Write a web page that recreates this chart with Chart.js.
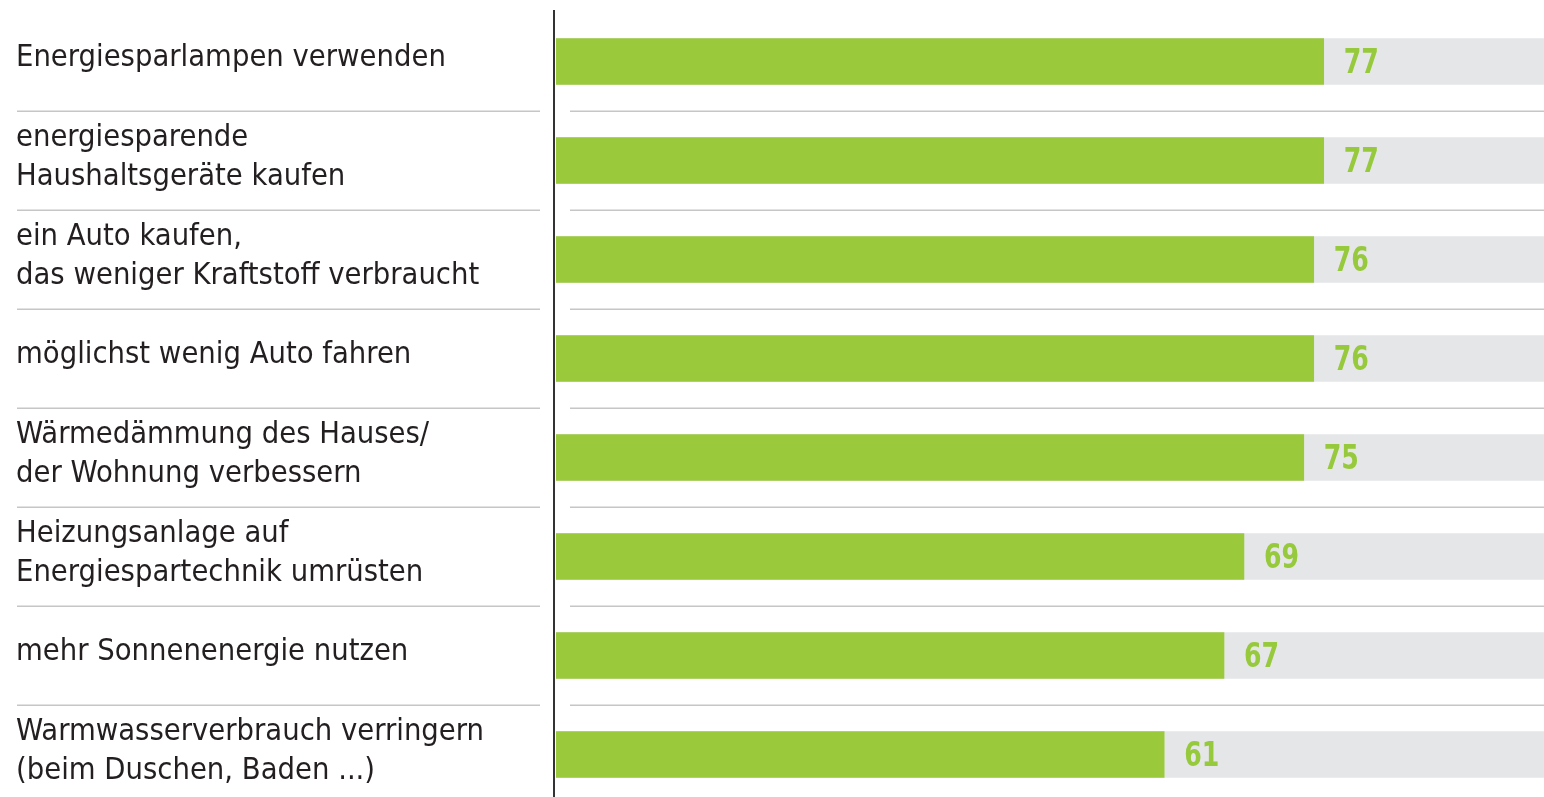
<!DOCTYPE html>
<html>
<head>
<meta charset="utf-8">
<script src="https://cdn.jsdelivr.net/npm/chart.js@4.4.1/dist/chart.umd.min.js"></script>
<style>
  html, body { margin: 0; padding: 0; background: #ffffff; overflow: hidden; }
  #wrap { position: relative; width: 1553px; height: 804px; }
</style>
</head>
<body>
<div id="wrap"><canvas id="c"></canvas></div>
<script>
// ---- data ----
const categories = [
  ["Energiesparlampen verwenden"],
  ["energiesparende", "Haushaltsgeräte kaufen"],
  ["ein Auto kaufen,", "das weniger Kraftstoff verbraucht"],
  ["möglichst wenig Auto fahren"],
  ["Wärmedämmung des Hauses/", "der Wohnung verbessern"],
  ["Heizungsanlage auf", "Energiespartechnik umrüsten"],
  ["mehr Sonnenenergie nutzen"],
  ["Warmwasserverbrauch verringern", "(beim Duschen, Baden ...)"]
];
const values = [77, 77, 76, 76, 75, 69, 67, 61];
const trackValues = [100, 100, 100, 100, 100, 100, 100, 100];
const axisMin = 0;
const axisMax = 100;

// ---- styles ----
const GREEN = '#9aca3c';
const TRACK = '#e5e6e8';
const LABEL_GREEN = '#97c93d';
const TEXT = '#231f20';
const SEP = '#c6c6c6';
const FONT = "'DejaVu Sans Condensed', 'Liberation Sans Narrow', 'Roboto Condensed', 'Open Sans', sans-serif";

const decorPlugin = {
  id: 'decor',
  beforeDatasetsDraw(chart) {
    const ctx = chart.ctx;
    const y = chart.scales.y;
    const area = chart.chartArea;
    ctx.save();
    ctx.strokeStyle = SEP;
    ctx.lineWidth = 1.5;
    for (let i = 0; i < categories.length - 1; i++) {
      const yy = Math.round((y.getPixelForValue(i) + y.getPixelForValue(i + 1)) / 2) + 0.25;
      ctx.beginPath();
      ctx.moveTo(17, yy); ctx.lineTo(540, yy);
      ctx.moveTo(570, yy); ctx.lineTo(area.right, yy);
      ctx.stroke();
    }
    ctx.restore();
  },
  afterDatasetsDraw(chart) {
    const ctx = chart.ctx;
    const area = chart.chartArea;
    ctx.save();
    // vertical axis line
    ctx.fillStyle = '#333333';
    ctx.fillRect(area.left - 3, 10, 2, chart.height - 10);
    // value labels
    const meta = chart.getDatasetMeta(0);
    ctx.fillStyle = LABEL_GREEN;
    ctx.font = "bold 33px " + FONT;
    ctx.textAlign = 'left';
    ctx.textBaseline = 'middle';
    meta.data.forEach((el, i) => {
      ctx.save();
      ctx.translate(el.x + 20, el.y + 3);
      ctx.scale(0.85, 1);
      ctx.fillText(String(values[i]), 0, 0);
      ctx.restore();
    });
    ctx.restore();
  }
};

new Chart(document.getElementById('c'), {
  type: 'bar',
  data: {
    labels: categories,
    datasets: [
      { data: values, backgroundColor: GREEN, grouped: false, barThickness: 46, borderWidth: 0 },
      { data: trackValues, backgroundColor: TRACK, grouped: false, barThickness: 46, borderWidth: 0 }
    ]
  },
  options: {
    indexAxis: 'y',
    responsive: true,
    maintainAspectRatio: false,
    animation: false,
    layout: { padding: { left: 16, top: 12, right: 0, bottom: 0 } },
    plugins: { legend: { display: false }, tooltip: { enabled: false } },
    scales: {
      x: { display: false, min: axisMin, max: axisMax },
      y: {
        grid: { display: false },
        border: { display: false },
        afterFit(scale) { scale.width = 540; scale.paddingTop = 0; scale.paddingBottom = 0; },
        ticks: {
          autoSkip: false,
          crossAlign: 'far',
          color: TEXT,
          padding: 0,
          labelOffset: -3,
          font: { family: FONT, size: 30.6, lineHeight: 1.3 }
        }
      }
    }
  },
  plugins: [decorPlugin]
});
</script>
</body>
</html>
